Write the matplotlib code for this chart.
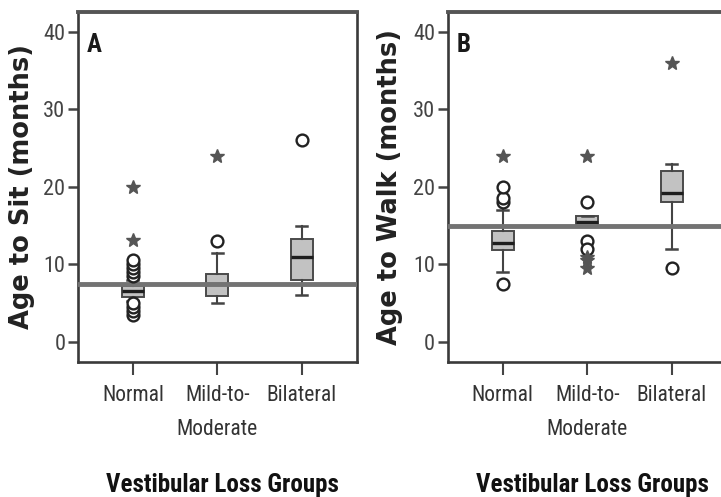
import matplotlib.pyplot as plt
import numpy as np

groups = ['Normal', 'Mild-to-\nModerate', 'Bilateral']

# Panel A: age to sit (months)
sit_q1 = [5.8, 5.9, 8.0]
sit_med = [6.5, 7.5, 11.0]
sit_q3 = [7.2, 8.8, 13.3]
sit_lo = [5.2, 5.0, 6.0]
sit_hi = [8.0, 11.5, 15.0]
sit_circles = [[8.5, 9.0, 9.5, 10.0, 10.5, 3.5, 4.0, 4.5, 5.0], [13.0], [26.0]]
sit_stars = [[13.2, 20.0], [24.0], []]
sit_ref = 7.4

# Panel B: age to walk (months)
walk_q1 = [11.9, 15.0, 18.0]
walk_med = [12.8, 15.5, 19.2]
walk_q3 = [14.3, 16.3, 22.0]
walk_lo = [9.0, 15.0, 12.0]
walk_hi = [17.0, 16.3, 23.0]
walk_circles = [[18.0, 18.5, 20.0, 7.5], [18.0, 13.0, 12.0], [9.5]]
walk_stars = [[24.0], [24.0, 11.0, 10.5, 9.5], [36.0]]
walk_ref = 15.0

narrow = ['Roboto Condensed', 'DejaVu Sans']
dark = '#3a3a3a'

fig = plt.figure(figsize=(7.21, 4.97), dpi=100)


def panel(rect, letter, ylabel, q1, med, q3, lo, hi, circles, stars, ref, xlab_x, ylab_x):
    ax = fig.add_axes(rect)
    stats = []
    for i in range(3):
        stats.append(dict(q1=q1[i], med=med[i], q3=q3[i], whislo=lo[i], whishi=hi[i], fliers=[]))
    ax.bxp(stats, positions=[1, 2, 3], widths=0.26, patch_artist=True, showfliers=False,
           boxprops=dict(facecolor='#c2c2c2', edgecolor='#4a4a4a', linewidth=1.4),
           medianprops=dict(color='#1e1e1e', linewidth=2.4),
           whiskerprops=dict(color='#444444', linewidth=1.5),
           capprops=dict(color='#444444', linewidth=1.8),
           capwidths=0.13)
    for i in range(3):
        ax.plot([i + 1] * len(circles[i]), circles[i], 'o', mfc='white', mec='#222222',
                mew=1.7, ms=8.5, zorder=4)
        ax.plot([i + 1] * len(stars[i]), stars[i], '*', color='#555555', ms=10, zorder=4)
    # reference line across each panel
    ax.axhline(ref, color='#737373', linewidth=3.5, zorder=3)
    ax.set_xlim(0.35, 3.65)
    ax.set_ylim(-2.6, 42.6)
    ax.set_yticks([0, 10, 20, 30, 40])
    ax.set_xticks([1, 2, 3])
    ax.set_xticklabels(groups, family=narrow, fontsize=15.5, color='#333333', linespacing=1.85)
    ax.set_yticklabels(['0', '10', '20', '30', '40'], family=narrow, fontsize=16, color='#444444')
    ax.tick_params(axis='y', length=7, width=1.8, color='#444444', pad=2)
    ax.tick_params(axis='x', length=9.5, width=1.5, color='#444444', pad=7)
    for s in ax.spines.values():
        s.set_linewidth(1.9)
        s.set_color(dark)
    ax.spines['top'].set_linewidth(2.8)
    ax.spines['top'].set_color('#555555')
    ax.text(0.032, 0.94, letter, transform=ax.transAxes, fontsize=18, fontweight='bold',
            family=narrow, color='#1a1a1a', va='top')
    ax.set_ylabel(ylabel, fontsize=18.5, fontweight='bold', color='#222222')
    ax.yaxis.set_label_coords(ylab_x, 0.5)
    fig.text(xlab_x, 0.01, 'Vestibular Loss Groups', family=narrow, fontsize=18,
             fontweight='bold', color='#111111', ha='center', va='baseline')
    return ax


panel([0.108, 0.272, 0.387, 0.704], 'A', 'Age to Sit (months)',
      sit_q1, sit_med, sit_q3, sit_lo, sit_hi, sit_circles, sit_stars, sit_ref, 0.309, -0.155)
panel([0.621, 0.272, 0.387, 0.704], 'B', 'Age to Walk (months)',
      walk_q1, walk_med, walk_q3, walk_lo, walk_hi, walk_circles, walk_stars, walk_ref, 0.822, -0.162)

fig.savefig('out.png', dpi=100)
